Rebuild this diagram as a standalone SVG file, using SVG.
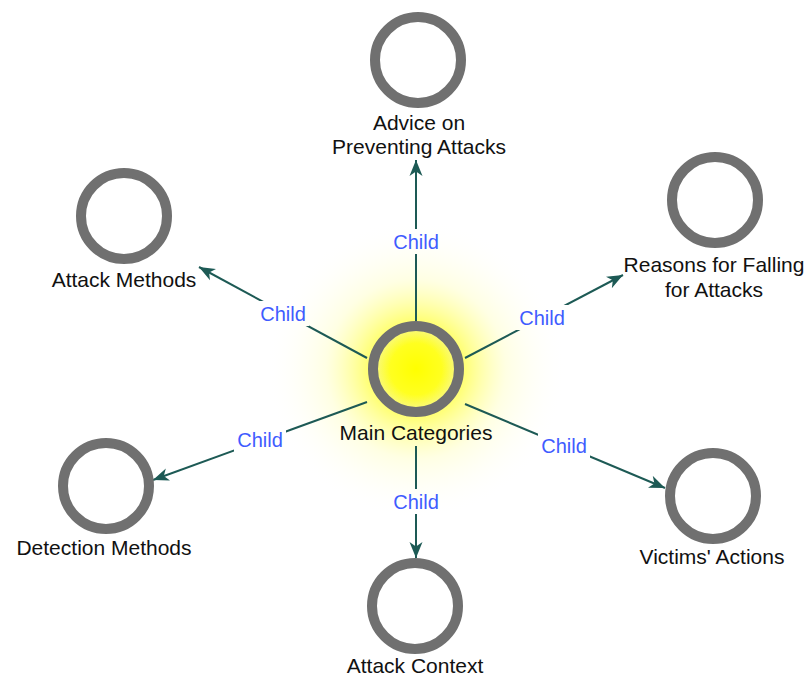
<svg xmlns="http://www.w3.org/2000/svg" width="811" height="677" viewBox="0 0 811 677">
<defs>
<radialGradient id="glow" cx="416" cy="369" r="150" gradientUnits="userSpaceOnUse">
<stop offset="0" stop-color="#ffff00" stop-opacity="1"/>
<stop offset="0.33" stop-color="#ffff20" stop-opacity="0.6"/>
<stop offset="0.6" stop-color="#ffff90" stop-opacity="0.25"/>
<stop offset="1" stop-color="#ffffff" stop-opacity="0"/>
</radialGradient>
<radialGradient id="core" cx="0.5" cy="0.5" r="0.5">
<stop offset="0" stop-color="#ffff00"/>
<stop offset="0.6" stop-color="#ffff20"/>
<stop offset="1" stop-color="#f8f890"/>
</radialGradient>
<marker id="arr" markerUnits="userSpaceOnUse" markerWidth="18" markerHeight="14" refX="16" refY="7" orient="auto">
<path d="M0,0.5 L16,7 L0,13.5 L4.5,7 z" fill="#1d5a55"/>
</marker>
<mask id="lblmask" maskUnits="userSpaceOnUse" x="0" y="0" width="811" height="677">
<rect x="0" y="0" width="811" height="677" fill="#fff"/>
<rect x="390" y="229" width="52" height="25" fill="#000"/>
<rect x="257" y="301" width="52" height="25" fill="#000"/>
<rect x="516" y="305" width="52" height="25" fill="#000"/>
<rect x="234" y="427" width="52" height="25" fill="#000"/>
<rect x="390" y="489" width="52" height="25" fill="#000"/>
<rect x="538" y="433" width="52" height="25" fill="#000"/>
</mask>
</defs>
<style>
.ring{fill:#ffffff;stroke:#707070;stroke-width:10}
.lbl{font-family:"Liberation Sans",Arial,sans-serif;font-size:21px;fill:#111111;text-anchor:middle}
.edge{stroke:#1d5a55;stroke-width:2;fill:none;marker-end:url(#arr)}
.el{font-family:"Liberation Sans",Arial,sans-serif;font-size:20px;fill:#3f5cff;text-anchor:middle}
</style>
<rect width="811" height="677" fill="#ffffff"/>
<circle cx="416" cy="369" r="150" fill="url(#glow)"/>
<g id="connectors">
<g mask="url(#lblmask)">
<line class="edge" x1="416" y1="321" x2="416" y2="160"/>
<line class="edge" x1="367" y1="358" x2="199" y2="267"/>
<line class="edge" x1="465" y1="358" x2="623" y2="275"/>
<line class="edge" x1="367" y1="402" x2="153" y2="480"/>
<line class="edge" x1="416" y1="446" x2="416" y2="558"/>
<line class="edge" x1="465" y1="404" x2="665" y2="488"/>
</g>
<text class="el" x="416" y="249">Child</text>
<text class="el" x="283" y="321">Child</text>
<text class="el" x="542" y="325">Child</text>
<text class="el" x="260" y="447">Child</text>
<text class="el" x="416" y="509">Child</text>
<text class="el" x="564" y="453">Child</text>
</g>
<g id="main">
<circle cx="416" cy="369" r="43" fill="url(#core)" stroke="#707070" stroke-width="10"/>
<text class="lbl" x="416" y="440">Main Categories</text>
</g>
<g id="advice">
<circle class="ring" cx="418" cy="60" r="43"/>
<text class="lbl" x="419" y="130">Advice on</text>
<text class="lbl" x="419" y="154">Preventing Attacks</text>
</g>
<g id="attack-methods">
<circle class="ring" cx="124" cy="216" r="43"/>
<text class="lbl" x="124" y="287">Attack Methods</text>
</g>
<g id="reasons">
<circle class="ring" cx="715" cy="200" r="43"/>
<text class="lbl" x="714" y="272">Reasons for Falling</text>
<text class="lbl" x="714" y="297">for Attacks</text>
</g>
<g id="detection">
<circle class="ring" cx="106" cy="486" r="43"/>
<text class="lbl" x="104" y="555">Detection Methods</text>
</g>
<g id="context">
<circle class="ring" cx="415" cy="606" r="43"/>
<text class="lbl" x="415" y="673">Attack Context</text>
</g>
<g id="victims">
<circle class="ring" cx="713" cy="496" r="43"/>
<text class="lbl" x="712" y="564">Victims' Actions</text>
</g>
</svg>
